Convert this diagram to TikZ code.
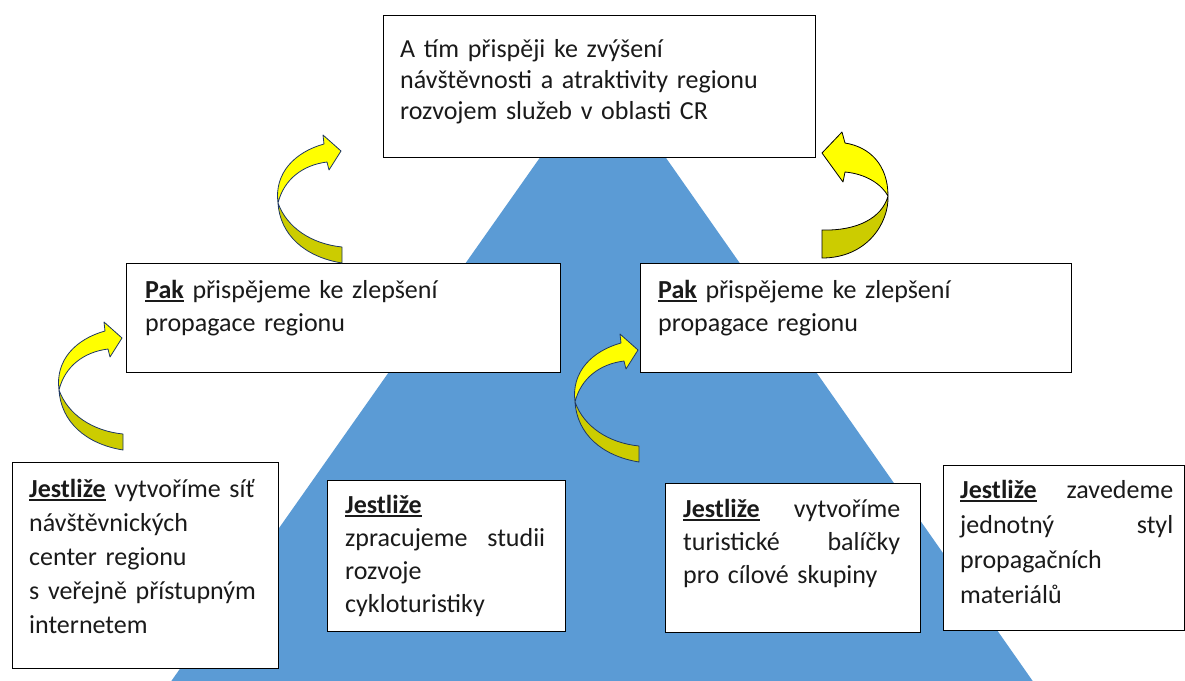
\documentclass[tikz,border=0pt]{standalone}
\usepackage{fontspec}
\setmainfont{Carlito}
\definecolor{triblue}{HTML}{5B9BD5}
\definecolor{ylw}{HTML}{FFFF00}
\definecolor{dylw}{HTML}{CCCC00}
\definecolor{navy}{RGB}{31,56,100}
\definecolor{txtc}{HTML}{1A1A1A}
\newcommand\ulbf[1]{\setbox0\hbox{\textbf{#1}}\rlap{\rule[-3.5pt]{\wd0}{1.5pt}}\box0\relax}
\newcommand\jf{\hskip 0pt plus 1fill\relax}
\begin{document}
\begin{tikzpicture}[x=1pt,y=-1pt,
  box/.style={draw=black, line width=1.4pt, fill=white, anchor=north west, inner sep=0pt},
  txt/.style={anchor=base west, inner sep=0pt, align=left, text=txtc, font=\fontsize{26}{33}\selectfont},
  arrowline/.style={line width=0.8pt, line join=round},
  carrow/.pic={
    \filldraw[fill=ylw, draw=navy, arrowline] (-63,52) .. controls (-67,22) and (-46,1) .. (-17,-7)
      -- (-18,-16) -- (0,0) -- (-12,19) -- (-14,11) .. controls (-38,14) and (-57,28) .. (-63,52) -- cycle;
    \filldraw[fill=dylw, draw=navy, arrowline] (-63,52) .. controls (-61,84) and (-36,106) .. (1,112)
      -- (1,96) .. controls (-29,93) and (-54,77) .. (-63,52) -- cycle;
  },
  carrowb/.pic={
    \filldraw[fill=ylw, draw=black, arrowline] (0,0) -- (20,-21) -- (23,-10) .. controls (48,-6) and (66,12) .. (66,43)
      .. controls (60,32) and (45,21) .. (23,19) -- (21,29) -- cycle;
    \filldraw[fill=dylw, draw=black, arrowline] (66,43) .. controls (67,70) and (45,105) .. (0,105)
      -- (0,77) .. controls (35,78) and (60,65) .. (66,43) -- cycle;
  }
]
\useasboundingbox (0,0) rectangle (1185,680);
% pyramid
\fill[triblue] (603,68) -- (1039,690) -- (165,690) -- cycle;

% boxes
\node[box, minimum width=432pt, minimum height=142pt] (top) at (383,15) {};
\node[box, minimum width=434pt, minimum height=109pt] (midl) at (126,263) {};
\node[box, minimum width=431pt, minimum height=109pt] (midr) at (640,263) {};
\node[box, minimum width=266pt, minimum height=206pt] (b1) at (12,462) {};
\node[box, minimum width=238pt, minimum height=151pt] (b2) at (327,480) {};
\node[box, minimum width=255pt, minimum height=149pt] (b3) at (665,483) {};
\node[box, minimum width=241pt, minimum height=165pt] (b4) at (943,465) {};

% texts
\node[txt, font=\fontsize{26}{31}\selectfont, text width=400pt] (toptxt) at ([shift={(17,42)}]top.north west)
  {A tím přispěji ke zvýšení\\návštěvnosti a atraktivity regionu\\rozvojem služeb v oblasti CR};
\node[txt, text width=400pt] (midltxt) at ([shift={(19,35)}]midl.north west)
  {\ulbf{Pak} přispějeme ke zlepšení\\propagace regionu};
\node[txt, text width=400pt] (midrtxt) at ([shift={(18,35)}]midr.north west)
  {\ulbf{Pak} přispějeme ke zlepšení\\propagace regionu};
\node[txt, font=\fontsize{26}{34}\selectfont, text width=245pt] (b1txt) at ([shift={(17,35)}]b1.north west)
  {\ulbf{Jestliže} vytvoříme síť\\návštěvnických\\center regionu\\s veřejně přístupným\\internetem};
\node[txt, text width=200pt] (b2txt) at ([shift={(18,33)}]b2.north west)
  {\ulbf{Jestliže}\\zpracujeme\jf studii\\rozvoje\\cykloturistiky};
\node[txt, text width=217pt] (b3txt) at ([shift={(18,34)}]b3.north west)
  {\ulbf{Jestliže}\jf vytvoříme\\turistické\jf balíčky\\pro cílové skupiny};
\node[txt, font=\fontsize{26}{35}\selectfont, text width=213pt] (b4txt) at ([shift={(17,33)}]b4.north west)
  {\ulbf{Jestliže}\jf zavedeme\\jednotný\jf styl\\propagačních\\materiálů};

% curved arrows
\pic (a1) at (341,151) {carrow};
\pic (a3) at (122,338) {carrow};
\pic (a4) at (638,350) {carrow};
\pic (a2) at (822,153) {carrowb};
\end{tikzpicture}
\end{document}
